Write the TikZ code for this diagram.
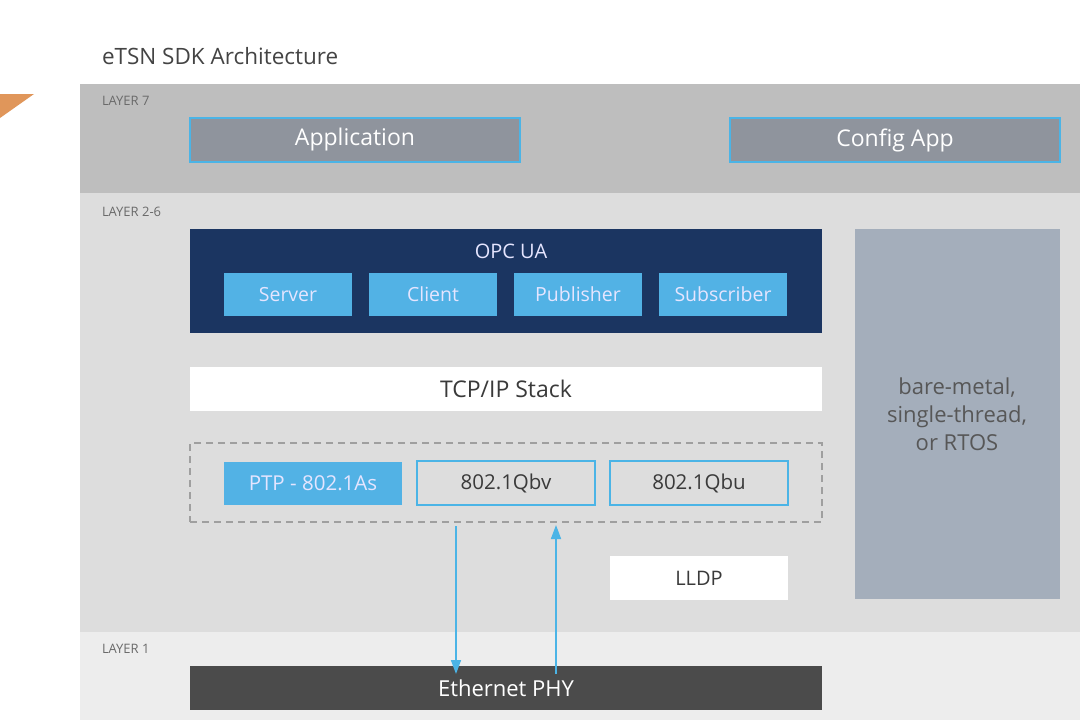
\documentclass[tikz,border=0pt]{standalone}
\usepackage{fontspec}
\setmainfont{Open Sans}
\usetikzlibrary{arrows.meta}
\definecolor{lseven}{HTML}{BEBEBE}
\definecolor{lmid}{HTML}{DDDDDD}
\definecolor{lone}{HTML}{EDEDED}
\definecolor{appfill}{HTML}{8F949D}
\definecolor{cyanline}{HTML}{4BB4E6}
\definecolor{navy}{HTML}{1B3561}
\definecolor{lblue}{HTML}{52B2E5}
\definecolor{barefill}{HTML}{A4AEBB}
\definecolor{phyfill}{HTML}{4B4B4B}
\definecolor{titlecol}{HTML}{444444}
\definecolor{labcol}{HTML}{6A6A6A}
\definecolor{darktext}{HTML}{3A3A3A}
\definecolor{orangec}{HTML}{E0965A}
\begin{document}
\begin{tikzpicture}[x=1pt,y=-1pt,
  every node/.style={inner sep=0pt, outer sep=0pt},
  layerlab/.style={anchor=west, text=labcol, font=\fontsize{13}{15}\selectfont},
  appbox/.style={anchor=north west, fill=appfill, draw=cyanline, line width=1.6pt, text=white, font=\fontsize{23}{26}\selectfont},
  subbox/.style={anchor=north west, fill=lblue, text=white!90!blue, font=\fontsize{19.5}{22}\selectfont, minimum width=128pt, minimum height=43pt},
  whitebox/.style={anchor=north west, fill=white, text=darktext},
  tsnbox/.style={anchor=north west, fill=lmid, draw=cyanline, line width=1.4pt, text=darktext, font=\fontsize{20.5}{23}\selectfont, minimum width=178pt, minimum height=44pt},
  arr/.style={draw=cyanline, line width=1.6pt, -{Triangle[length=14pt,width=10pt]}}
]
\useasboundingbox (0,0) rectangle (1080,720);
\fill[white] (0,0) rectangle (1080,720);
% orange triangle
\fill[orangec] (0,94) -- (34,94) -- (0,118) -- cycle;
% title
\node[anchor=west, text=titlecol, font=\fontsize{22.5}{26}\selectfont] (title) at (102,56) {eTSN SDK Architecture};
% layer bands
\fill[lseven] (80,84) rectangle (1080,193);
\fill[lmid] (80,193) rectangle (1080,632);
\fill[lone] (80,632) rectangle (1080,720);
\node[layerlab] (l7) at (102,101) {LAYER 7};
\node[layerlab] (l26) at (102,212) {LAYER 2-6};
\node[layerlab] (l1) at (102,649) {LAYER 1};
% layer 7 boxes
\node[appbox, minimum width=330pt, minimum height=44pt] (app) at (190,118) {Application};
\node[appbox, minimum width=330pt, minimum height=44pt] (cfg) at (730,118) {Config App};
% OPC UA
\node[anchor=north west, fill=navy, minimum width=632pt, minimum height=104pt] (opc) at (190,229) {};
\node[text=white!90!blue, font=\fontsize{20}{23}\selectfont] (opct) at (511,251) {OPC UA};
\node[subbox] (srv) at (224,273) {Server};
\node[subbox] (cli) at (369,273) {Client};
\node[subbox] (pub) at (514,273) {Publisher};
\node[subbox] (sub) at (659,273) {Subscriber};
% TCP/IP
\node[whitebox, font=\fontsize{23}{26}\selectfont, minimum width=632pt, minimum height=44pt] (tcp) at (190,367) {TCP/IP Stack};
% TSN dashed group
\node[anchor=north west, draw=gray!75, dashed, dash pattern=on 7pt off 5pt, line width=1.1pt, minimum width=632pt, minimum height=79pt] (tsn) at (190,443) {};
\node[anchor=north west, fill=lblue, text=white!90!blue, font=\fontsize{20.5}{23}\selectfont, minimum width=178pt, minimum height=43pt] (ptp) at (224,462) {PTP - 802.1As};
\node[tsnbox] (qbv) at (417,461) {802.1Qbv};
\node[tsnbox] (qbu) at (610,461) {802.1Qbu};
% LLDP
\node[whitebox, font=\fontsize{20}{23}\selectfont, minimum width=178pt, minimum height=44pt] (lldp) at (610,556) {LLDP};
% bare metal
\node[anchor=north west, fill=barefill, minimum width=205pt, minimum height=370pt] (bare) at (855,229) {};
\node[align=center, text=darktext!85!white, font=\fontsize{22}{28}\selectfont] (baret) at (957,414) {bare-metal,\\single-thread,\\or RTOS};
% Ethernet PHY
\node[anchor=north west, fill=phyfill, text=white, font=\fontsize{22}{25}\selectfont, minimum width=632pt, minimum height=44pt] (phy) at (190,666) {Ethernet PHY};
% arrows
\coordinate (dn) at (456,0);
\coordinate (up) at (556,0);
\draw[arr] ([yshift=-4pt]tsn.south -| dn) -- ([yshift=-8pt]phy.north -| dn);
\draw[arr] ([yshift=-8pt]phy.north -| up) -- ([yshift=-3pt]tsn.south -| up);
\end{tikzpicture}
\end{document}
